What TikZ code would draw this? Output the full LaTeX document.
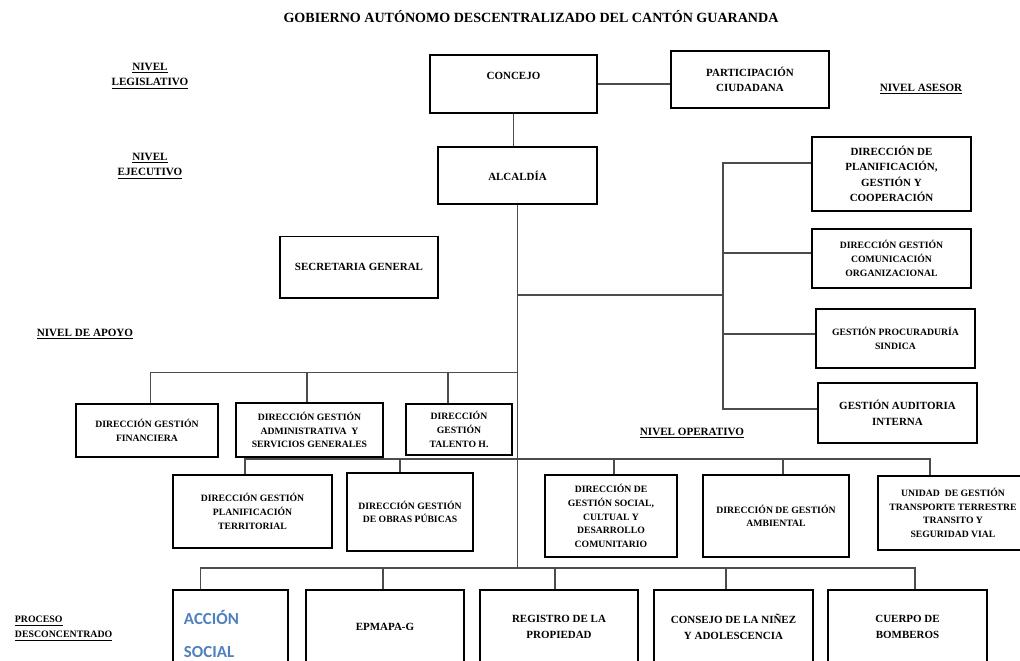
\documentclass[tikz,border=0pt]{standalone}
\usepackage{fontspec}
\setmainfont{Liberation Serif}
\newfontfamily\accfont{Carlito}
\definecolor{accblue}{RGB}{79,129,189}
\tikzset{
  unitbox/.style={draw, line width=1.4pt, align=center, inner sep=2pt},
  bigbox/.style={unitbox, font=\bfseries\fontsize{7.8}{11}\selectfont},
  smallbox/.style={unitbox, font=\bfseries\fontsize{6.9}{9.7}\selectfont},
  nivel/.style={font=\bfseries\fontsize{7.9}{10.7}\selectfont, align=center},
  wire/.style={draw=black!70, line width=0.8pt},
}

\begin{document}
\begin{tikzpicture}[x=0.025cm, y=-0.025cm]
    \useasboundingbox (0,0) rectangle (1020,660);
    \fill[white] (0,0) rectangle (1020,660);
    \clip (0,0) rectangle (1020,660);

    \node[font=\bfseries\fontsize{10}{12}\selectfont] (title) at (531,17) {GOBIERNO AUTÓNOMO DESCENTRALIZADO DEL CANTÓN GUARANDA};

    \node[nivel] (legis) at (150,76) {\underline{NIVEL}\\\underline{LEGISLATIVO}};
    \node[nivel] (ejec) at (150,166) {\underline{NIVEL}\\\underline{EJECUTIVO}};
    \node[nivel] (asesor) at (921,89) {\underline{NIVEL ASESOR}};
    \node[nivel] (apoyo) at (85,334) {\underline{NIVEL DE APOYO}};
    \node[nivel] (operat) at (692,433) {\underline{NIVEL OPERATIVO}};
    \node[nivel, font=\bfseries\fontsize{7}{10.7}\selectfont, align=left, anchor=west] (descon) at (10,628.5) {\underline{PROCESO}\\\underline{DESCONCENTRADO}};

    \node[bigbox, minimum width=4.175cm, minimum height=1.45cm, text height=5.5pt, text depth=11.7pt] (concejo) at (513.5,84) {CONCEJO};
    \node[bigbox, minimum width=3.95cm, minimum height=1.425cm] (partic) at (750,79.5) {PARTICIPACIÓN\\CIUDADANA};
    \node[bigbox, minimum width=3.975cm, minimum height=1.425cm] (alcaldia) at (517.5,175.5) {ALCALDÍA};
    \node[bigbox, minimum width=3.95cm, minimum height=1.525cm] (secret) at (359,267) {SECRETARIA GENERAL};

    % nivel asesor
    \node[bigbox, minimum width=3.975cm, minimum height=1.85cm] (planif) at (891.5,174) {DIRECCIÓN DE\\PLANIFICACIÓN,\\GESTIÓN Y\\COOPERACIÓN};
    \node[smallbox, minimum width=3.975cm, minimum height=1.475cm] (comunic) at (891.5,258.5) {DIRECCIÓN GESTIÓN\\COMUNICACIÓN\\ORGANIZACIONAL};
    \node[smallbox, minimum width=3.975cm, minimum height=1.475cm] (procur) at (895.5,338.5) {GESTIÓN PROCURADURÍA\\SINDICA};
    \node[bigbox, minimum width=3.975cm, minimum height=1.5cm] (audit) at (897.5,413) {GESTIÓN AUDITORIA\\INTERNA};

    % nivel de apoyo
    \node[smallbox, minimum width=3.54cm, minimum height=1.325cm] (financ) at (147,430.5) {DIRECCIÓN GESTIÓN\\FINANCIERA};
    \node[smallbox, minimum width=3.675cm, minimum height=1.36cm] (admin) at (309.5,430) {DIRECCIÓN GESTIÓN\\ADMINISTRATIVA~ Y\\SERVICIOS GENERALES};
    \node[smallbox, minimum width=2.65cm, minimum height=1.275cm] (talento) at (459,429.5) {DIRECCIÓN\\GESTIÓN\\TALENTO H.};

    % nivel operativo
    \node[smallbox, minimum width=3.975cm, minimum height=1.825cm] (planterr) at (252.5,511.5) {DIRECCIÓN GESTIÓN\\PLANIFICACIÓN\\TERRITORIAL};
    \node[smallbox, minimum width=3.15cm, minimum height=1.95cm] (obras) at (410,512) {DIRECCIÓN GESTIÓN\\DE OBRAS PÚBICAS};
    \node[smallbox, minimum width=3.3cm, minimum height=2.05cm] (social) at (611,516) {DIRECCIÓN DE\\GESTIÓN SOCIAL,\\CULTUAL Y\\DESARROLLO\\COMUNITARIO};
    \node[smallbox, minimum width=3.65cm, minimum height=2.05cm] (ambient) at (776,516) {DIRECCIÓN DE GESTIÓN\\AMBIENTAL};
    \node[smallbox, minimum width=3.75cm, minimum height=1.85cm] (unidad) at (953,513) {UNIDAD~ DE GESTIÓN\\TRANSPORTE TERRESTRE\\TRANSITO Y\\SEGURIDAD VIAL};

    % proceso desconcentrado
    \node[unitbox, font=\accfont\bfseries\fontsize{12}{23.5}\selectfont, text=accblue, align=left, inner xsep=0.275cm, text width=2.325cm, minimum height=2.2cm] (accion) at (230.5,634) {ACCIÓN\\SOCIAL};
    \node[bigbox, minimum width=3.95cm, minimum height=1.85cm] (epmapa) at (385,627) {EPMAPA-G};
    \node[bigbox, minimum width=3.95cm, minimum height=1.85cm] (registro) at (559,627) {REGISTRO DE LA\\PROPIEDAD};
    \node[bigbox, minimum width=3.975cm, minimum height=1.85cm] (consejo) at (733.5,627) {CONSEJO DE LA NIÑEZ\\Y ADOLESCENCIA};
    \node[bigbox, minimum width=3.975cm, minimum height=1.85cm] (cuerpo) at (907.5,627) {CUERPO DE\\BOMBEROS};

    \coordinate (busS) at (723,295);
    \coordinate (busA) at (517.5,372.5);
    \coordinate (busO) at (517.5,459);
    \coordinate (busB) at (517.5,568);

    \draw[wire] (concejo.east) -- (concejo.east -| partic.west);
    \draw[wire] (concejo.south) -- (concejo.south |- alcaldia.north);
    \draw[wire] (alcaldia.south) -- (busB);

    \draw[wire] (busA |- busS) -- (busS);
    \draw[wire] (planif.west) ++(0,-11) -| (busS);
    \draw[wire] (comunic.west) ++(0,-5.5) -| (busS);
    \draw[wire] (procur.west) ++(0,-4.5) -| (busS);
    \draw[wire] (audit.west) ++(0,-4) -| (busS);

    \draw[wire] (financ.north) ++(3.5,0) |- (busA);
    \draw[wire] (admin.north) ++(-2.5,0) |- (busA);
    \draw[wire] (talento.north) ++(-11,0) |- (busA);

    \draw[wire] (planterr.north) ++(-7.5,0) |- (busO);
    \draw[wire] (obras.north) ++(-10,0) |- (busO);
    \draw[wire] (social.north) ++(3,0) |- (busO);
    \draw[wire] (ambient.north) ++(7,0) |- (busO);
    \draw[wire] (unidad.north) ++(-23,0) |- (busO);

    \draw[wire] (accion.north) ++(-30,0) |- (busB);
    \draw[wire] (epmapa.north) ++(-2,0) |- (busB);
    \draw[wire] (registro.north) ++(-4,0) |- (busB);
    \draw[wire] (consejo.north) ++(-7.5,0) |- (busB);
    \draw[wire] (cuerpo.north) ++(7.5,0) |- (busB);
\end{tikzpicture}
\end{document}
